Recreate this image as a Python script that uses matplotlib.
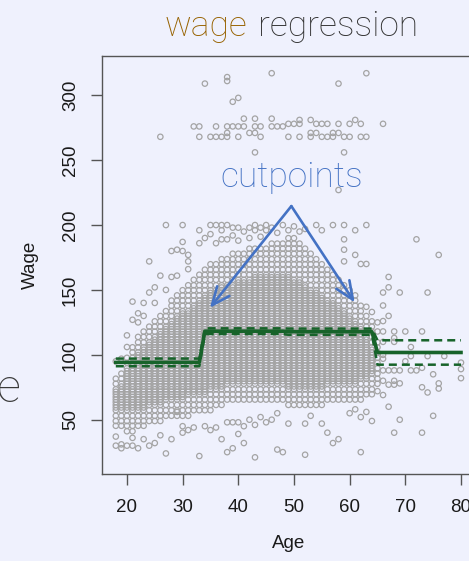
import numpy as np
import matplotlib
matplotlib.use("Agg")
import matplotlib.pyplot as plt

W, H = 469, 561
BG = "#eff1fd"
GREEN = "#17632a"
BLUE = "#4472c4"

# ages shown on the x axis, one column of points per year
ages = list(range(18, 81))

# wage rows that repeat across the age columns
wage_levels = [21.0, 25.4, 29.0, 33.1, 37.2, 41.1, 45.3, 49.0, 53.0, 57.3, 61.4,
               65.5, 69.6, 73.4, 77.7, 81.6, 85.5, 89.6, 93.8, 97.7, 101.9, 105.8,
               109.6, 113.8, 117.9, 121.7, 125.8, 129.9, 133.7, 137.8, 141.8, 145.8,
               149.8, 153.6, 157.8, 161.7, 165.6, 169.8, 173.7, 177.9, 181.8, 185.7,
               189.9, 193.8, 197.7]
inner_levels = [59.4, 63.5, 67.5, 71.5, 75.6, 79.7, 83.5, 87.6, 91.7, 95.8, 99.8,
                103.9, 107.7, 111.7, 115.9, 119.8, 123.7, 127.9, 131.8, 135.9, 139.7,
                143.8, 147.7, 151.9, 155.7, 159.8, 163.7, 167.9]

# dense wage range of each age column (0 = no dense block)
core_lo = [45, 42, 40, 40, 42, 45, 46, 48, 48, 50, 50, 52, 52, 53, 54, 55, 56, 57,
           58, 60, 62, 62, 63, 64, 64, 64, 64, 64, 64, 64, 62, 60, 60, 60, 60, 60,
           60, 60, 62, 62, 62, 62, 63, 63, 64, 66, 68, 75] + [0] * 15
core_hi = [82, 88, 100, 108, 114, 120, 124, 128, 132, 136, 142, 148, 152, 156, 160,
           163, 166, 170, 172, 175, 176, 178, 180, 180, 182, 182, 184, 185, 186, 188,
           188, 190, 190, 188, 185, 180, 176, 172, 168, 164, 160, 155, 150, 146, 140,
           132, 126, 112] + [0] * 15
inner_lo = [58, 55, 52, 52, 55, 58, 60, 60, 62, 64, 64, 66, 66, 68, 68, 70, 70, 72,
            72, 74, 76, 76, 76, 78, 78, 78, 78, 78, 78, 76, 76, 75, 74, 74, 74, 74,
            74, 74, 76, 76, 76, 76, 78, 78, 80, 82, 85] + [0] * 16
inner_hi = [72, 78, 88, 95, 100, 105, 110, 112, 116, 120, 124, 128, 132, 135, 138,
            140, 145, 148, 150, 152, 154, 155, 156, 158, 158, 160, 160, 160, 160, 160,
            160, 160, 158, 156, 154, 150, 148, 145, 142, 140, 136, 132, 128, 124, 120,
            112, 105] + [0] * 16

# scattered points outside the dense block
extra_age = [26, 34, 38, 38, 39, 40, 46, 32, 33, 36, 38, 39, 40, 41, 43, 44, 46, 47,
             48, 33, 35, 36, 37, 38, 40, 44, 38, 42, 43, 41, 43, 46, 43, 63, 58, 51,
             53, 61, 49, 50, 51, 54, 55, 56, 58, 60, 62, 66, 53, 54, 57, 58, 49, 51,
             53, 55, 56, 57, 59, 60, 62, 63, 59, 58,
             27, 30, 33, 35, 36, 37, 38, 37, 39, 40, 42, 43, 43, 44, 45, 45, 30, 33,
             37, 38, 28, 29, 30, 31, 31, 31, 24, 26, 29, 24, 21, 34, 35, 36, 39, 40,
             41, 42, 44, 46, 47, 48, 49, 50, 51, 52, 54, 55, 57, 59, 61, 63, 72, 59,
             59, 61, 59, 63, 62, 76, 67, 66, 67, 69, 74, 66, 63, 64, 65, 66, 67, 65,
             66, 68, 70, 73, 22, 22, 21, 20, 20, 23, 23, 25, 25, 27, 28,
             66, 68, 68, 71, 66, 66, 71, 74, 77, 80, 80, 80, 66, 67, 68, 69, 71, 72,
             73, 75, 66, 67, 68, 68, 69, 73, 74, 76, 76, 65, 66, 70, 67, 63, 64, 69,
             75, 68, 73, 58, 57, 62, 52, 56, 55, 49, 52, 53, 60, 61, 62,
             18, 18, 19, 19, 21, 21, 22, 26, 28, 27, 33, 37, 38, 39, 40, 41, 43, 47,
             48, 30, 30, 29, 38, 39, 40, 41, 42, 43, 44, 45, 46, 47, 34, 35, 36, 31,
             32, 18, 19, 20, 23, 24, 25]
extra_wage = [268, 309, 314, 311, 295, 298, 317, 276, 276, 276, 276, 276, 276, 276,
              276, 276, 276, 276, 276, 268, 268, 268, 268, 268, 268, 268, 271, 271,
              271, 282, 282, 282, 256, 317, 309, 281, 281, 281, 278, 278, 278, 278,
              278, 278, 278, 278, 278, 278, 271, 271, 271, 271, 268, 268, 268, 268,
              268, 268, 268, 268, 268, 268, 256, 227,
              200, 200, 196, 200, 200, 200, 200, 196, 198, 198, 198, 200, 196, 198,
              200, 196, 187, 186, 189, 189, 180, 181, 180, 177, 172, 166, 172, 161,
              161, 148, 141, 190, 193, 186, 192, 188, 195, 190, 191, 198, 194, 200,
              196, 199, 195, 197, 200, 196, 200, 200, 196, 200, 189, 189, 181, 177,
              172, 170, 170, 177, 160, 148, 152, 148, 148, 138, 137, 133, 125, 126,
              130, 118, 118, 118, 118, 118, 125, 132, 127, 106, 115, 130, 140, 140,
              152, 150, 160,
              110, 110, 113, 106, 100, 97, 99, 99, 99, 94, 89, 82, 88, 88, 88, 88,
              88, 88, 90, 85, 80, 77, 80, 77, 78, 75, 71, 78, 74, 72, 69, 95, 60, 56,
              49, 50, 53, 40, 40, 35, 32, 25, 23, 40, 47, 47, 47, 53, 55, 58, 52,
              30, 37, 31, 28, 30, 36, 28, 38, 35, 24, 22, 35, 25, 28, 39, 32, 21, 27,
              25, 45, 40, 56, 48, 48, 48, 45, 50, 46, 52, 48, 50, 55, 45, 42, 44, 42,
              44, 95, 97, 30, 35, 30, 32]

# step-function fit: breaks between age bins, fitted mean and 2*SE per bin
cut_breaks = [33.5, 49.0, 64.5]
fit_level = [94.16, 118.21, 117.82, 101.80]
band_half = [2.95, 2.2, 2.4, 9.4]

xs, ys = [], []
for a, lo, hi, ilo, ihi in zip(ages, core_lo, core_hi, inner_lo, inner_hi):
    xs += [a for w in wage_levels if lo <= w <= hi]
    ys += [w for w in wage_levels if lo <= w <= hi]
    xs += [a for w in inner_levels if ilo <= w <= ihi]
    ys += [w for w in inner_levels if ilo <= w <= ihi]
xs += extra_age
ys += extra_wage

fig = plt.figure(figsize=(W / 100, H / 100), dpi=100, facecolor=BG)
ax = fig.add_axes([102 / W, (H - 474) / H, 372.8 / W, 418 / H])
ax.set_facecolor(BG)

ax.scatter(xs, ys, s=15, facecolors="none", edgecolors="#a4a4a4",
           linewidths=0.9, zorder=2)

grid = np.array(ages)
idx = np.digitize(grid, cut_breaks)
fitted = np.array(fit_level)[idx]
band = np.array(band_half)[idx]
ax.plot(grid, fitted, color=GREEN, lw=2.6, zorder=4)
for sign in (1, -1):
    ax.plot(grid, fitted + sign * band, color=GREEN, lw=1.8,
            dashes=(3.2, 2.0), zorder=3)

ax.set_xlim(15.52, 82.48)
ax.set_ylim(8.16, 330.27)
ax.set_xticks([20, 30, 40, 50, 60, 70, 80])
ax.set_yticks([50, 100, 150, 200, 250, 300])
for side in ("left", "bottom", "top", "right"):
    ax.spines[side].set_color("#555555")
    ax.spines[side].set_linewidth(1.0)

tick_font = dict(family="Liberation Sans", size=13.5)
ax.tick_params(axis="both", direction="out", length=8, width=1.0,
               color="#555555", labelcolor="#1a1a1a", labelsize=13.5)
ax.tick_params(axis="x", pad=10)
ax.tick_params(axis="y", pad=8.5, labelrotation=90)
for lab in ax.get_yticklabels():
    lab.set_va("center")
    lab.set_family("Liberation Sans")
for lab in ax.get_xticklabels():
    lab.set_family("Liberation Sans")

ax.set_xlabel("Age", fontdict=tick_font, color="#1a1a1a", labelpad=14)
ax.set_ylabel("Wage", fontdict=tick_font, color="#1a1a1a", labelpad=17)

# arrows from the label down to the two cutpoints
ax.text(49.6, 237, "cutpoints", color=BLUE, fontsize=25.5, family="Roboto",
        weight="light", ha="center", va="center", zorder=6)
for tip in [(34.9, 136.2), (60.9, 140.4)]:
    ax.annotate("", xy=tip, xytext=(49.53, 214.6),
                arrowprops=dict(arrowstyle="->,head_length=0.65,head_width=0.28",
                                mutation_scale=20, color=BLUE, lw=1.9,
                                shrinkA=0, shrinkB=0), zorder=6)

fig.text(165 / W, 1 - 36 / H, "wage", color="#976200", fontsize=25.5,
         family="Roboto", weight="light", ha="left", va="baseline")
fig.text(418 / W, 1 - 36 / H, "regression", color="#333333", fontsize=25.5,
         family="Roboto", weight="light", ha="right", va="baseline")
fig.text(20.5 / W, 1 - 402 / H, "e", color="#3a3a3a", fontsize=34,
         family="Roboto", weight="light", ha="right", va="baseline")

fig.savefig("out.png", dpi=100, facecolor=BG)
